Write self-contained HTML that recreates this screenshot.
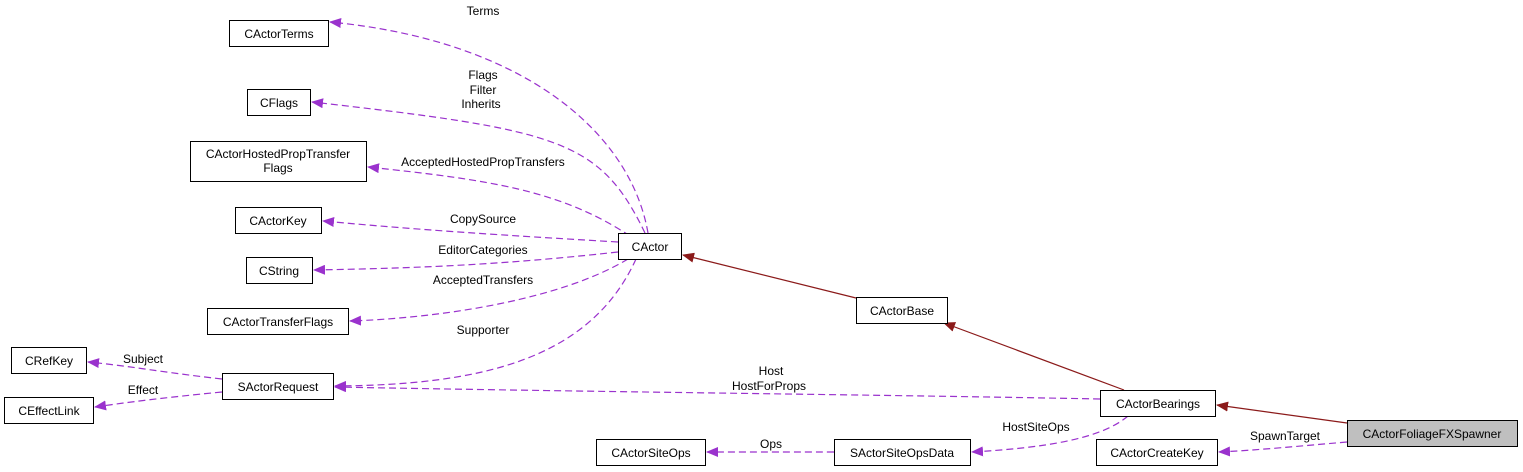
<!DOCTYPE html>
<html><head><meta charset="utf-8"><style>
html,body{margin:0;padding:0;background:#fff;}
svg{display:block;}
text{font-family:"Liberation Sans",sans-serif;font-size:12px;fill:#000;}
</style></head><body>
<svg width="1523" height="472" viewBox="0 0 1523 472" xmlns="http://www.w3.org/2000/svg">
<defs>
<marker id="p" markerWidth="12" markerHeight="10" refX="11" refY="5" orient="auto" markerUnits="userSpaceOnUse"><path d="M0,0 L12,5 L0,10 z" fill="#9a32cd"/></marker>
<marker id="r" markerWidth="12" markerHeight="10" refX="11" refY="5" orient="auto" markerUnits="userSpaceOnUse"><path d="M0,0 L12,5 L0,10 z" fill="#8b1a1a"/></marker>
</defs>
<g fill="none" stroke="#9a32cd" stroke-width="1.2" stroke-dasharray="7,4">
<path d="M648,233 C630,130 520,40 330,22" marker-end="url(#p)"/>
<path d="M645,233 C600,140 560,130 312,102" marker-end="url(#p)"/>
<path d="M630,236 C560,190 490,180 368,167" marker-end="url(#p)"/>
<path d="M618,242 C500,235 420,230 323,221" marker-end="url(#p)"/>
<path d="M618,252 C500,265 420,268 314,270" marker-end="url(#p)"/>
<path d="M628,259 C560,300 440,318 350,321" marker-end="url(#p)"/>
<path d="M636,259 C590,360 480,385 335,386" marker-end="url(#p)"/>
<path d="M222,379 C160,372 130,366 88,362" marker-end="url(#p)"/>
<path d="M222,392 C160,398 130,402 95,407" marker-end="url(#p)"/>
<path d="M1100,399 C900,395 600,392 335,387" marker-end="url(#p)"/>
<path d="M1128,416 C1100,440 1040,448 972,452" marker-end="url(#p)"/>
<path d="M834,452 C780,452 740,452 707,452" marker-end="url(#p)"/>
<path d="M1347,442 C1300,446 1260,450 1219,452" marker-end="url(#p)"/>
</g>
<g fill="none" stroke="#8b1a1a" stroke-width="1.2">
<path d="M856,298 L683,255" marker-end="url(#r)"/>
<path d="M1124,390 L944,323" marker-end="url(#r)"/>
<path d="M1347,423 L1217,405" marker-end="url(#r)"/>
</g>
<g stroke="#000" stroke-width="1" fill="#fff">
<rect x="229.5" y="20.5" width="99" height="26"/>
<rect x="247.5" y="89.5" width="63" height="26"/>
<rect x="190.5" y="141.5" width="176" height="40"/>
<rect x="235.5" y="207.5" width="86" height="26"/>
<rect x="246.5" y="257.5" width="66" height="26"/>
<rect x="207.5" y="308.5" width="141" height="26"/>
<rect x="11.5" y="347.5" width="75" height="26"/>
<rect x="4.5" y="397.5" width="89" height="26"/>
<rect x="222.5" y="373.5" width="111" height="26"/>
<rect x="618.5" y="233.5" width="63" height="26"/>
<rect x="856.5" y="297.5" width="91" height="26"/>
<rect x="1100.5" y="390.5" width="115" height="26"/>
<rect x="1347.5" y="420.5" width="170" height="26" fill="#bfbfbf"/>
<rect x="1096.5" y="439.5" width="121" height="26"/>
<rect x="834.5" y="439.5" width="136" height="26"/>
<rect x="596.5" y="439.5" width="109" height="26"/>
</g>
<g text-anchor="middle">
<text x="279" y="38">CActorTerms</text>
<text x="279" y="107">CFlags</text>
<text x="278" y="158">CActorHostedPropTransfer</text>
<text x="278" y="172">Flags</text>
<text x="278" y="225">CActorKey</text>
<text x="279" y="275">CString</text>
<text x="278" y="326">CActorTransferFlags</text>
<text x="49" y="365">CRefKey</text>
<text x="49" y="415">CEffectLink</text>
<text x="278" y="391">SActorRequest</text>
<text x="650" y="251">CActor</text>
<text x="902" y="315">CActorBase</text>
<text x="1158" y="408">CActorBearings</text>
<text x="1432" y="438">CActorFoliageFXSpawner</text>
<text x="1157" y="457">CActorCreateKey</text>
<text x="902" y="457">SActorSiteOpsData</text>
<text x="651" y="457">CActorSiteOps</text>
<text x="483" y="15">Terms</text>
<text x="483" y="79">Flags</text>
<text x="483" y="94">Filter</text>
<text x="481" y="108">Inherits</text>
<text x="483" y="166">AcceptedHostedPropTransfers</text>
<text x="483" y="223">CopySource</text>
<text x="483" y="254">EditorCategories</text>
<text x="483" y="284">AcceptedTransfers</text>
<text x="483" y="334">Supporter</text>
<text x="143" y="363">Subject</text>
<text x="143" y="394">Effect</text>
<text x="771" y="375">Host</text>
<text x="769" y="390">HostForProps</text>
<text x="1036" y="431">HostSiteOps</text>
<text x="771" y="448">Ops</text>
<text x="1285" y="440">SpawnTarget</text>
</g>
</svg>
</body></html>
